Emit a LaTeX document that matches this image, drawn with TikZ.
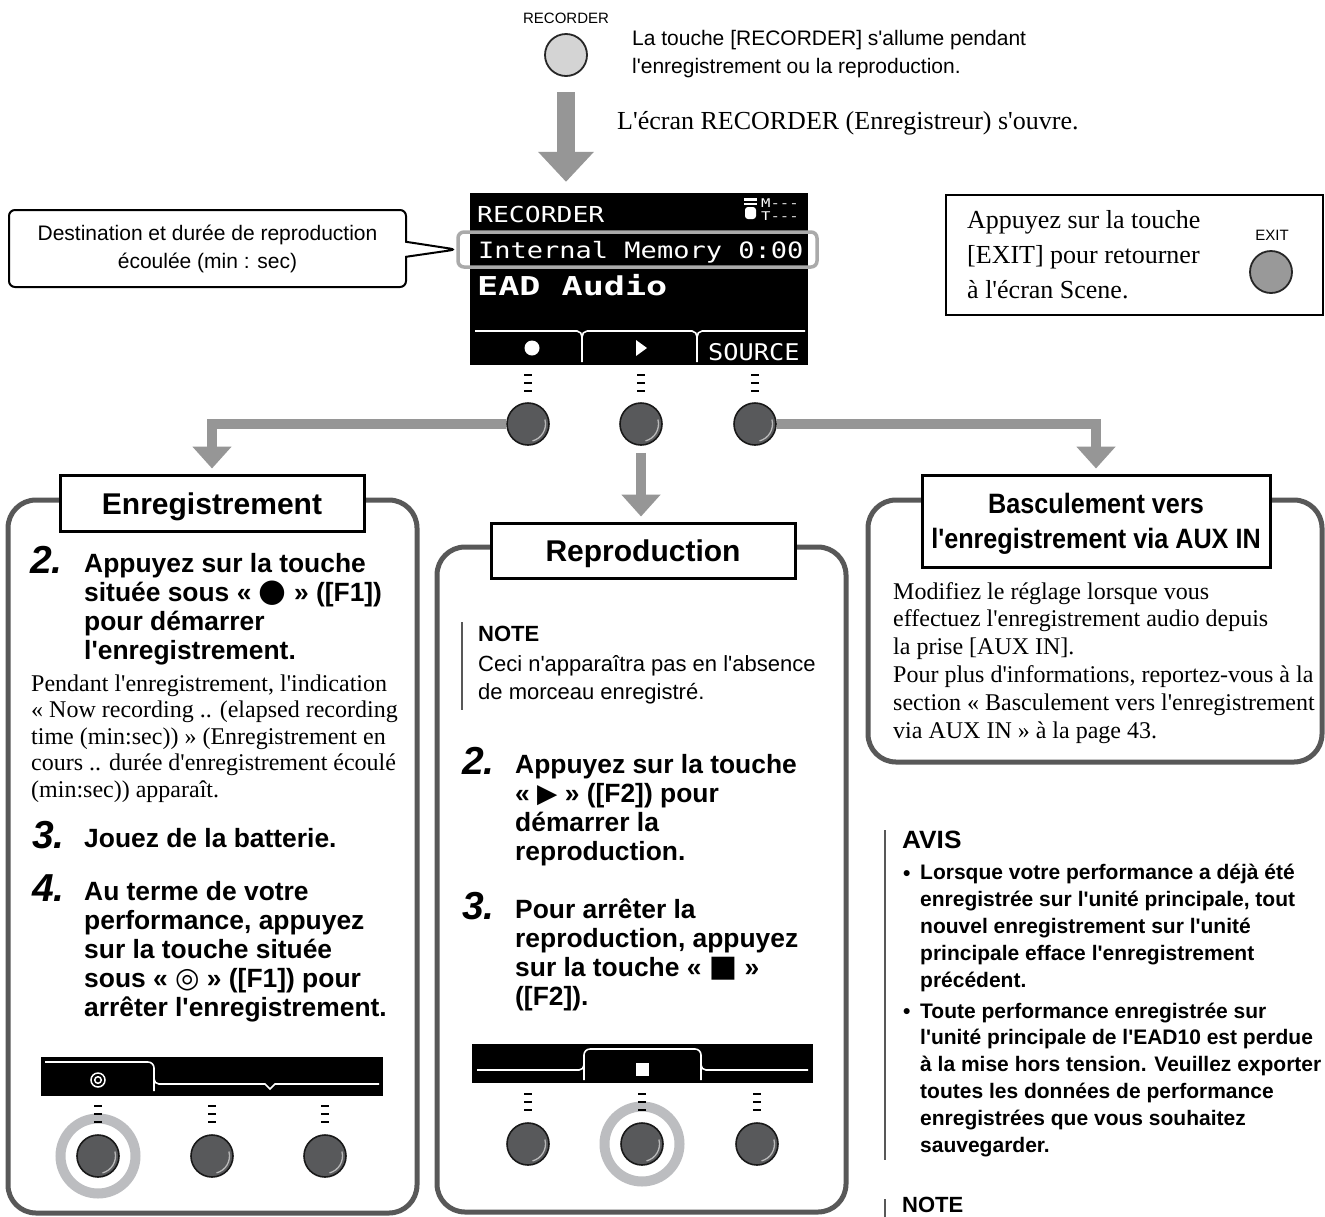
\documentclass[tikz,border=0pt]{standalone}
\usepackage{fontspec}
\usepackage{graphicx}
\newfontfamily\fSerif{Liberation Serif}
\newfontfamily\fSans{Liberation Sans}
\newfontfamily\fMono{DejaVu Sans Mono}
\newfontfamily\fSym{DejaVu Sans}
\usetikzlibrary{arrows.meta,shapes.callouts}
\definecolor{arrowgray}{RGB}{150,150,150}
\definecolor{panelgray}{RGB}{88,88,88}
\definecolor{btndark}{RGB}{88,89,91}
\definecolor{ringgray}{RGB}{188,189,192}
\definecolor{hlgray}{RGB}{170,170,170}
\newcommand\fsz[2]{\fontsize{#1}{#2}\selectfont}
\newcommand\tickmarks[2]{%
  \foreach \k in {0,1,2}{\draw[line width=2.6, black] (#1-4,#2+8*\k) -- (#1+4,#2+8*\k);}}
\begin{document}
\begin{tikzpicture}[x=1pt,y=-1pt,
  txt/.style={anchor=base west, inner sep=0, align=left},
  ctxt/.style={anchor=base, inner sep=0, align=center},
  btn/.style={circle, draw=black!90, line width=1.6, fill=btndark, minimum size=42, inner sep=0,
     path picture={\draw[gray!55, line width=1.3] (path picture bounding box.center) ++(-75:17.5pt) arc[start angle=-75, end angle=15, radius=17.5pt];}},
  ring/.style={circle, draw=ringgray, line width=10, minimum size=75, inner sep=0},
  panel/.style={draw=panelgray, line width=5, rounded corners=28, inner sep=0},
  titlebox/.style={draw=black, line width=3, fill=white, inner sep=0},
  garrow/.style={draw=arrowgray, line width=10, -{Triangle[length=22pt,width=38pt]}},
  bodyserif/.style={txt, font=\fSerif\fsz{24}{26.5}},
  stepnum/.style={anchor=base west, inner sep=0, font=\fSans\bfseries\itshape\fsz{39}{39}},
  steptxt/.style={txt, font=\fSans\bfseries\fsz{26.4}{29}},
  scrtxt/.style={anchor=base west, inner sep=0, text=white},
  minisc/.style={fill=black, minimum height=39, inner sep=0},
]
\useasboundingbox (0,0) rectangle (1325,1216);
\clip (0,0) rectangle (1325,1216);
\fill[white] (0,0) rectangle (1325,1216);

% multi-line nodes: the base anchor is the baseline of the LAST line

% ---------- top ----------
\node[ctxt, font=\fSans\fsz{15}{15}] (reclbl) at (566,23) {RECORDER};
\node[circle, draw=black!85, line width=1.8, fill=black!17, minimum size=42, inner sep=0] (recbtn) at (566,55) {};
\node[txt, font=\fSans\fsz{21}{28}] (rectxt) at (632,73) {La touche [RECORDER] s'allume pendant\\l'enregistrement ou la reproduction.};
\node[txt, font=\fSerif\fsz{26}{26}] (opentxt) at (617,129) {L'écran RECORDER (Enregistreur) s'ouvre.};

% ---------- screen ----------
\node[fill=black, minimum width=338, minimum height=172, inner sep=0] (scr) at (639,279) {};
\coordinate (toparrowstart) at (566,92);
\draw[draw=arrowgray, line width=18, -{Triangle[length=30pt,width=54pt]}, shorten >=11pt] (toparrowstart) -- (toparrowstart |- scr.north);

\node[scrtxt, font=\fMono\fsz{22}{22}] (s1) at (477,222) {\scalebox{1.2}[1]{RECORDER}};
\fill[white] (744,198) rectangle (757,200.5);
\fill[white] (744,202.5) rectangle (757,205);
\fill[white, rounded corners=3] (745,207) rectangle (756,219);
\node[scrtxt, font=\fMono\fsz{12}{12}] (sm) at (761,207) {\scalebox{1.3}[1]{M---}};
\node[scrtxt, font=\fMono\fsz{12}{12}] (st) at (761,220) {\scalebox{1.3}[1]{T---}};

\node[draw=hlgray, line width=3.5, rounded corners=6, minimum width=359, minimum height=35, inner sep=0] (hl) at (637.5,249.5) {};
\node[scrtxt, font=\fMono\fsz{22.5}{22.5}] (s2) at (478,258) {\scalebox{1.2}[1]{Internal Memory 0:00}};
\node[scrtxt, font=\fMono\bfseries\fsz{26}{26}] (s3) at (477,295) {\scalebox{1.35}[1]{EAD Audio}};

\draw[white, line width=1.6] (475,331) -- (577,331) to[out=0,in=90] (582,337) -- (582,362)
  (587,331) to[out=180,in=90] (582,337)
  (587,331) -- (692,331) to[out=0,in=90] (697,337) -- (697,362)
  (702,331) to[out=180,in=90] (697,337)
  (702,331) -- (805,331);
\fill[white] (532,348) circle[radius=7.5pt];
\fill[white] (636,340) -- (647,348) -- (636,356) -- cycle;
\node[scrtxt, font=\fMono\fsz{23}{23}] (s4) at (708,360) {\scalebox{1.1}[1]{SOURCE}};

\tickmarks{528}{375}
\tickmarks{641}{375}
\tickmarks{755}{375}

% ---------- callout ----------
\node[rectangle callout, draw=black, line width=2, rounded corners=6, fill=white, minimum width=397, minimum height=77, inner sep=0, callout absolute pointer={(hl.west)}, callout pointer width=15pt] (call) at (207.5,248.5) {};
\node[ctxt, font=\fSans\fsz{21}{28}] (calltxt) at (207.5,268) {Destination et durée de reproduction\\écoulée (min : sec)};

% ---------- exit box ----------
\node[draw=black, line width=2, minimum width=377, minimum height=120, inner sep=0] (exitbox) at (1134.5,255) {};
\node[txt, font=\fSerif\fsz{26}{35}] (exittxt) at (967,298) {Appuyez sur la touche\\{[}EXIT] pour retourner\\à l'écran Scene.};
\node[ctxt, font=\fSans\fsz{15}{15}] (exitlbl) at (1272,240) {EXIT};
\node[circle, draw=black!85, line width=1.8, fill=black!40, minimum size=42, inner sep=0] (exitbtn) at (1271,272) {};

% ---------- panels ----------
\node[panel, minimum width=409, minimum height=713] (pL) at (212.5,856.5) {};
\node[panel, minimum width=409, minimum height=665] (pM) at (641.5,879.5) {};
\node[panel, minimum width=454, minimum height=262] (pR) at (1095,631) {};

\node[titlebox, minimum width=304, minimum height=56] (tL) at (212,503) {};
\node[ctxt, font=\fSans\bfseries\fsz{30}{30}] (tLt) at (212,514) {Enregistrement};
\node[titlebox, minimum width=304, minimum height=55] (tM) at (643,550.5) {};
\node[ctxt, font=\fSans\bfseries\fsz{30}{30}] (tMt) at (643,561.5) {Reproduction};
\node[titlebox, minimum width=348, minimum height=92] (tR) at (1096,521) {};
\node[ctxt, font=\fSans\bfseries\fsz{28}{35}] (tRt) at (1096,548) {\scalebox{0.9}[1]{Basculement vers}\\\scalebox{0.9}[1]{l'enregistrement via AUX IN}};

% ---------- connectors ----------
\node[btn] (b1) at (528,424) {};
\node[btn] (b2) at (641,424) {};
\node[btn] (b3) at (755,424) {};
\draw[garrow, shorten >=5pt] (b1.west) -| (tL.north);
\draw[garrow, shorten >=5pt] (b3.east) -| (tR.north);
\draw[garrow, shorten <=7pt, shorten >=5pt] (b2.south) -- (b2.south |- tM.north);

% ---------- left panel ----------
\node[stepnum] (n2L) at (30,573) {2.};
\node[steptxt] (t2L) at (84,659) {Appuyez sur la touche\\située sous « {\fSym\fsz{32}{29}●} » ([F1])\\pour démarrer\\l'enregistrement.};
\node[bodyserif] (bL) at (31,797) {Pendant l'enregistrement, l'indication\\« Now recording .. (elapsed recording\\time (min:sec)) » (Enregistrement en\\cours .. durée d'enregistrement écoulé\\(min:sec)) apparaît.};
\node[stepnum] (n3L) at (32,848) {3.};
\node[steptxt] (t3L) at (84,847) {Jouez de la batterie.};
\node[stepnum] (n4L) at (32,901) {4.};
\node[steptxt] (t4L) at (84,1016) {Au terme de votre\\performance, appuyez\\sur la touche située\\sous « {\fSym\fsz{28}{29}◎} » ([F1]) pour\\arrêter l'enregistrement.};

\node[minisc, minimum width=342] (ms1) at (212,1076.5) {};
\draw[white, line width=1.6] (45,1062) -- (148,1062) to[out=0,in=90] (154,1068) -- (154,1091)
   (154,1079) to[out=-90,in=180] (159,1084) -- (265,1084) -- (270,1089) -- (275,1084) -- (379,1084);
\draw[white, line width=1.5] (98,1080) circle[radius=7pt] (98,1080) circle[radius=3.3pt];
\node[ring] (r1) at (98,1156) {};
\tickmarks{98}{1106}
\tickmarks{212}{1106}
\tickmarks{325}{1106}
\node[btn] (l1) at (98,1156) {};
\node[btn] (l2) at (212,1156) {};
\node[btn] (l3) at (325,1156) {};

% ---------- middle panel ----------
\draw[panelgray, line width=2] (462,622) -- (462,710);
\node[txt, font=\fSans\bfseries\fsz{22}{22}] (noteM) at (478,641) {NOTE};
\node[txt, font=\fSans\fsz{22}{28}] (noteMt) at (478,699) {Ceci n'apparaîtra pas en l'absence\\de morceau enregistré.};
\node[stepnum] (n2M) at (462,774) {2.};
\node[steptxt] (t2M) at (515,860) {Appuyez sur la touche\\« {\fSym ▶} » ([F2]) pour\\démarrer la\\reproduction.};
\node[stepnum] (n3M) at (462,919) {3.};
\node[steptxt] (t3M) at (515,1005) {Pour arrêter la\\reproduction, appuyez\\sur la touche « {\fSym\fsz{30}{29}■} »\\([F2]).};

\node[minisc, minimum width=341] (ms2) at (642.5,1063.5) {};
\draw[white, line width=1.6] (477,1070) -- (579,1070) to[out=0,in=-90] (584,1065) -- (584,1055) to[out=90,in=180] (590,1049) -- (695,1049) to[out=0,in=90] (701,1055) -- (701,1065) to[out=-90,in=180] (706,1070) -- (808,1070)
  (584,1065) -- (584,1080) (701,1065) -- (701,1080);
\fill[white] (635.5,1062.5) rectangle (648.5,1075.5);
\node[ring] (r2) at (642,1144) {};
\tickmarks{528}{1094}
\tickmarks{642}{1094}
\tickmarks{757}{1094}
\node[btn] (m1) at (528,1144) {};
\node[btn] (m2) at (642,1144) {};
\node[btn] (m3) at (757,1144) {};

% ---------- right panel ----------
\node[txt, font=\fSerif\fsz{24}{27.8}] (bR) at (893,738) {Modifiez le réglage lorsque vous\\effectuez l'enregistrement audio depuis\\la prise [AUX IN].\\Pour plus d'informations, reportez-vous à la\\section « Basculement vers l'enregistrement\\via AUX IN » à la page 43.};

\draw[panelgray, line width=2] (885,830) -- (885,1160);
\node[txt, font=\fSans\bfseries\fsz{25}{25}] (avis) at (902,848) {\scalebox{1.05}[1]{AVIS}};
\node[txt, font=\fSans\bfseries\fsz{21}{26.8}] (av1b) at (903,880) {•};
\node[txt, font=\fSans\bfseries\fsz{21}{26.8}] (av1) at (920,987) {Lorsque votre performance a déjà été\\enregistrée sur l'unité principale, tout\\nouvel enregistrement sur l'unité\\principale efface l'enregistrement\\précédent.};
\node[txt, font=\fSans\bfseries\fsz{21}{26.8}] (av2b) at (903,1018) {•};
\node[txt, font=\fSans\bfseries\fsz{21}{26.8}] (av2) at (920,1152) {Toute performance enregistrée sur\\l'unité principale de l'EAD10 est perdue\\à la mise hors tension. Veuillez exporter\\toutes les données de performance\\enregistrées que vous souhaitez\\sauvegarder.};

\draw[panelgray, line width=2] (885,1199) -- (885,1222);
\node[txt, font=\fSans\bfseries\fsz{22}{22}] (noteR) at (902,1212) {NOTE};
\end{tikzpicture}
\end{document}
